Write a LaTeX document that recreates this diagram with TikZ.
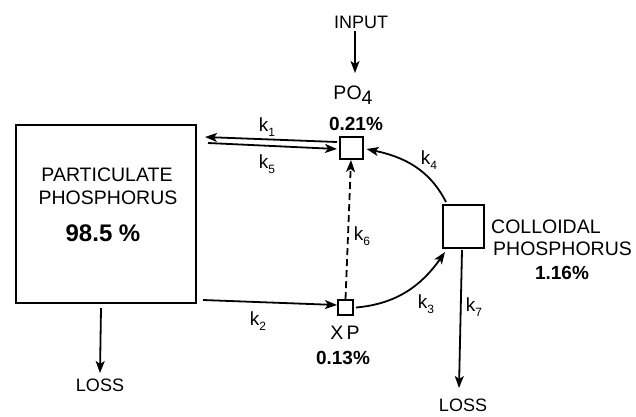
\documentclass[tikz,border=0pt]{standalone}
\usepackage{fontspec}
\setmainfont{Liberation Sans}
\usetikzlibrary{arrows.meta}
\newcommand\kk[1]{k\raisebox{-0.45ex}{\fontsize{12}{12}\selectfont #1}}
\begin{document}
\begin{tikzpicture}[x=1pt,y=1pt,
  box/.style={draw, line width=2pt, inner sep=0pt},
  flow/.style={line width=1.8pt, -{Stealth[length=12pt,width=9pt,inset=3pt]}},
  klabel/.style={font=\fontsize{19}{20}\selectfont, inner sep=0pt},
  txt/.style={font=\fontsize{19.5}{21}\selectfont, inner sep=0pt},
  small/.style={font=\fontsize{18}{20}\selectfont, inner sep=0pt},
  pct/.style={font=\fontsize{19}{21}\selectfont\bfseries, inner sep=0pt}]
\useasboundingbox (0,0) rectangle (636,-416);
% boxes
\node[box, minimum width=180pt, minimum height=178pt] (part) at (106,-214) {};
\node[box, minimum width=23pt, minimum height=22pt] (po4) at (351,-148) {};
\node[box, minimum width=15pt, minimum height=15pt] (xp) at (345.5,-307.5) {};
\node[box, minimum width=41pt, minimum height=43pt] (coll) at (463.5,-226.5) {};
% free ends
\coordinate (k1a) at (337,-142);
\coordinate (k1b) at (205,-137);
\coordinate (k5a) at (208,-143);
\coordinate (k5b) at (337,-149);
\coordinate (k2a) at (203,-300);
\coordinate (k2b) at (337,-305);
\coordinate (lossA) at (101,-308);
\coordinate (lossB) at (100,-373);
\coordinate (k7a) at (462,-250);
\coordinate (k7b) at (459,-388);
\coordinate (inE) at (355,-73);
% texts
\node[small] (input) at (361,-22) {INPUT};
\node[txt] (po4t) at (353,-95) {PO\raisebox{-0.45ex}{4}};
\node[pct] (po4p) at (356,-124) {0.21\%};
\node[txt] (pt1) at (107,-175) {PARTICULATE};
\node[txt] (pt2) at (108,-198) {PHOSPHORUS};
\node[font=\fontsize{24}{26}\selectfont\bfseries, inner sep=0pt] (pt3) at (103,-233) {98.5 \%};
\node[txt, anchor=west] (ct1) at (491,-227) {COLLOIDAL};
\node[txt, anchor=west] (ct2) at (493,-249) {PHOSPHORUS};
\node[pct] (ct3) at (562,-273) {1.16\%};
\node[txt] (xpt) at (345,-333) {X\,P};
\node[pct] (xpp) at (343,-358) {0.13\%};
\node[small] (loss1) at (100,-385) {LOSS};
\node[small] (loss2) at (463,-405) {LOSS};
% connectors
\draw[flow] ([xshift=-6pt,yshift=-3pt]input.south) -- (inE);
\draw[flow] (k1a) -- (k1b);
\draw[flow] (k5a) -- (k5b);
\draw[flow] (k2a) -- (k2b);
\draw[flow] (lossA) -- (lossB);
\draw[flow] (k7a) -- (k7b);
\draw[flow, dash pattern=on 7pt off 4pt] (xp.north) -- (po4.south);
\draw[flow] ([xshift=4pt,yshift=2pt]coll.north west) to[out=117, in=-12] ([xshift=3pt,yshift=-1pt]po4.east);
\draw[flow] ([xshift=2pt]xp.east) to[out=5, in=-125] ([xshift=3pt,yshift=-3pt]coll.south west);
% labels
\node[klabel] (lk1) at (267,-127) {\kk{1}};
\node[klabel] (lk5) at (267,-164) {\kk{5}};
\node[klabel] (lk2) at (258,-321) {\kk{2}};
\node[klabel] (lk6) at (362,-236) {\kk{6}};
\node[klabel] (lk4) at (429,-160) {\kk{4}};
\node[klabel] (lk3) at (426,-304) {\kk{3}};
\node[klabel] (lk7) at (474,-307) {\kk{7}};
\end{tikzpicture}
\end{document}
